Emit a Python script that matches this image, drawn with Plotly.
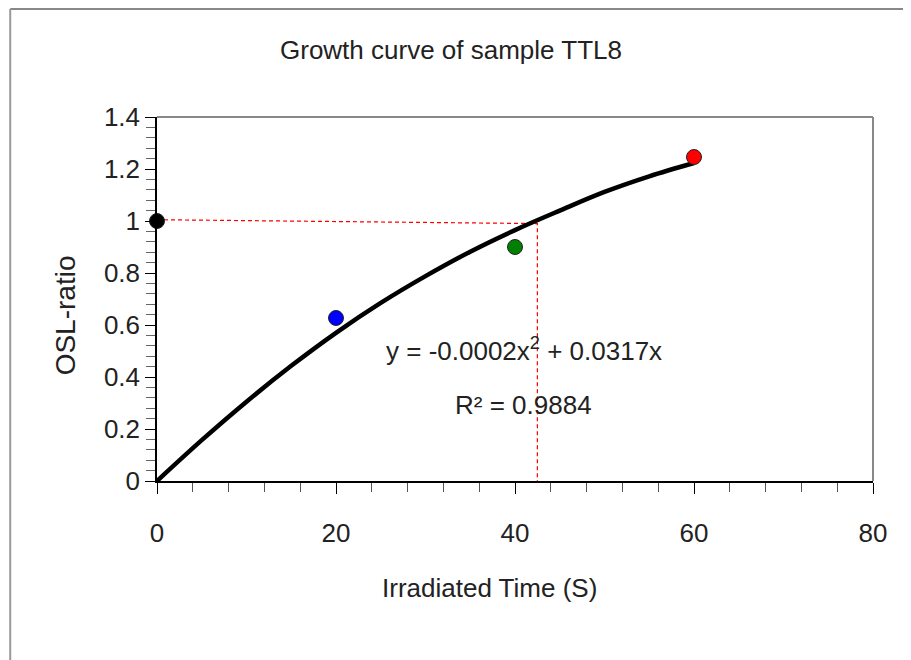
import plotly.graph_objects as go

# data
time_s = [0, 20, 40, 60]
osl_ratio = [1.0, 0.627, 0.90, 1.246]
point_colors = ["black", "blue", "green", "red"]

curve_x = [0, 5, 10, 15, 20, 25, 30, 35, 40, 45, 50, 55, 60]
curve_y = [0, 0.157, 0.305, 0.443, 0.57, 0.685, 0.788, 0.882, 0.965, 1.04, 1.112, 1.172, 1.223]

ref_x = [0, 42.5, 42.5]
ref_y = [1.005, 0.99, 0]

title_text = "Growth curve of sample TTL8"
x_title = "Irradiated Time (S)"
y_title = "OSL-ratio"
eq_text = "y = -0.0002x<sup>2</sup> + 0.0317x"
r2_text = "R² = 0.9884"

FONT = "Liberation Sans, Arial, sans-serif"
TXT = "#222"

fig = go.Figure()
fig.add_trace(go.Scatter(x=ref_x, y=ref_y, mode="lines",
                         line=dict(color="red", width=1.2, dash="4px,3px"),
                         hoverinfo="skip", showlegend=False))
fig.add_trace(go.Scatter(x=curve_x, y=curve_y, mode="lines",
                         line=dict(color="black", width=4.5, shape="spline"),
                         showlegend=False))
fig.add_trace(go.Scatter(x=time_s, y=osl_ratio, mode="markers",
                         marker=dict(color=point_colors, size=15,
                                     line=dict(color="#222", width=1)),
                         cliponaxis=False, showlegend=False))

fig.update_xaxes(range=[0, 80], dtick=20, tick0=0, showgrid=False, zeroline=False,
                 showline=True, linecolor="black", linewidth=1.5,
                 ticks="outside", ticklen=11, tickcolor="black", tickwidth=1,
                 ticklabelstandoff=17,
                 minor=dict(dtick=4, ticks="outside", ticklen=9, tickcolor="#555", tickwidth=1),
                 tickfont=dict(family=FONT, size=26, color=TXT))
fig.update_yaxes(range=[0, 1.4], dtick=0.2, tick0=0, showgrid=False, zeroline=False,
                 showline=True, linecolor="black", linewidth=1.5,
                 ticks="outside", ticklen=10, tickcolor="black", tickwidth=1,
                 minor=dict(dtick=0.04, ticks="outside", ticklen=9, tickcolor="#666", tickwidth=1),
                 tickfont=dict(family=FONT, size=26, color=TXT))

shapes = [
    # plot area top/right border
    dict(type="line", xref="paper", yref="paper", x0=0, x1=1, y0=1, y1=1,
         line=dict(color="#888", width=2)),
    dict(type="line", xref="paper", yref="paper", x0=1, x1=1, y0=0, y1=1,
         line=dict(color="#888", width=2)),
    # outer chart frame
    dict(type="line", xref="paper", yref="paper", x0=-0.205, x1=1.08, y0=1.297, y1=1.297,
         line=dict(color="#888", width=2)),
    dict(type="line", xref="paper", yref="paper", x0=-0.205, x1=-0.205, y0=-0.5, y1=1.297,
         line=dict(color="#999", width=2)),
]

annotations = [
    dict(text=eq_text, x=41.0, y=0.505, xref="x", yref="y", showarrow=False,
         font=dict(family=FONT, size=26, color=TXT)),
    dict(text=r2_text, x=41.0, y=0.292, xref="x", yref="y", showarrow=False,
         font=dict(family=FONT, size=26, color=TXT)),
    dict(text=x_title, x=0.465, y=-0.294, xref="paper", yref="paper", showarrow=False,
         xanchor="center", yanchor="middle",
         font=dict(family=FONT, size=26, color=TXT)),
    dict(text=y_title, x=-0.128, y=0.456, xref="paper", yref="paper", showarrow=False,
         xanchor="center", yanchor="middle", textangle=-90,
         font=dict(family=FONT, size=28, color=TXT)),
]

fig.update_layout(
    width=903, height=652,
    margin=dict(l=149, r=38, t=109, b=179),
    paper_bgcolor="white", plot_bgcolor="white",
    title=dict(text=title_text, x=443 / 903, xanchor="center", y=1 - 42 / 652, yanchor="middle",
               font=dict(family=FONT, size=26, color=TXT)),
    shapes=shapes, annotations=annotations, showlegend=False,
)

fig.write_html("out.html")
